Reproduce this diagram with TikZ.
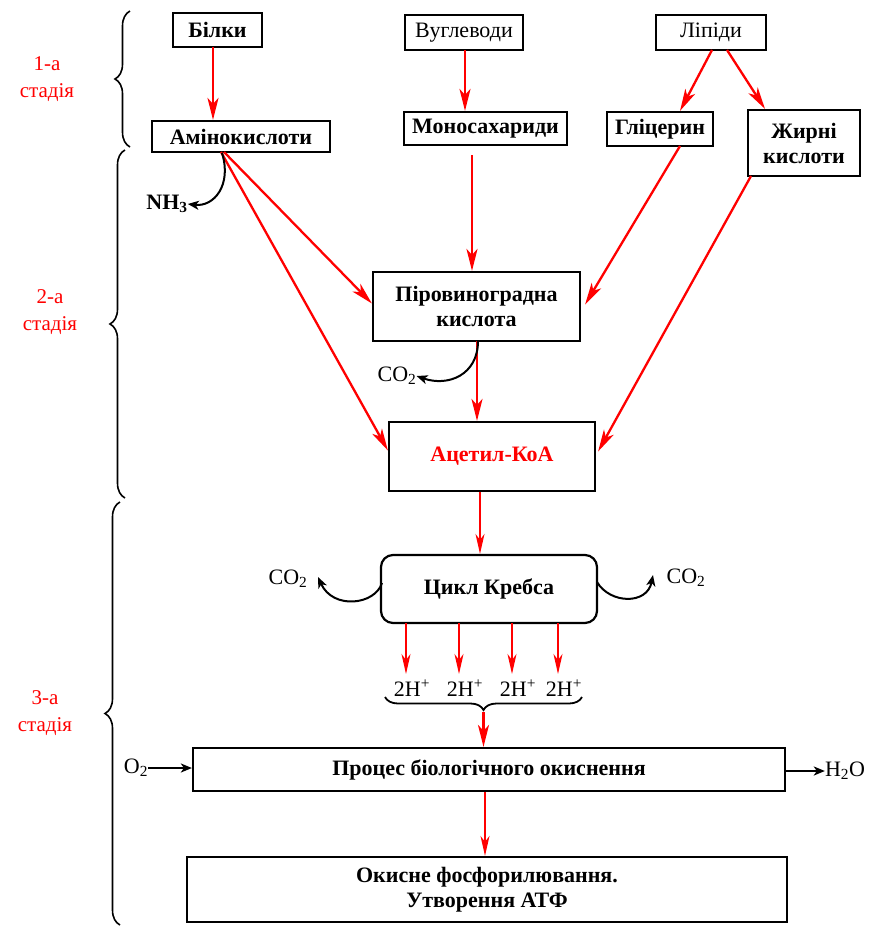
\documentclass[tikz,border=0pt]{standalone}
\usepackage{fontspec}
\setmainfont{Liberation Serif}
\usetikzlibrary{arrows.meta,decorations.pathreplacing,calc}
\begin{document}
\begin{tikzpicture}[x=1pt,y=-1pt,
  box/.style={draw=black,line width=2.2pt,inner sep=0pt,align=center,font=\fontsize{22}{25}\selectfont\bfseries},
  rbox/.style={box,font=\fontsize{22}{25}\selectfont},
  rarr/.style={draw=red,line width=2.3pt,-{Stealth[length=22pt,width=11pt,inset=6pt]}},
  tarr/.style={draw=red,line width=1.6pt,-{Stealth[length=20pt,width=9pt,inset=6pt]}},
  barr/.style={draw=black,line width=2pt,-{Stealth[length=11pt,width=9pt,inset=3pt]}},
  chem/.style={inner sep=0pt,font=\fontsize{22}{25}\selectfont},
  stage/.style={inner sep=0pt,align=center,text=red,font=\fontsize{21}{27}\selectfont},
  brc/.style={draw=black,line width=1.6pt,decorate,decoration={brace,amplitude=15pt}}
]
\useasboundingbox (0,0) rectangle (871,927);

% boxes
\node[box,minimum width=89pt,minimum height=34pt] (bilky) at (217.5,30) {Білки};
\node[rbox,minimum width=118pt,minimum height=35pt] (vugl) at (464,32.5) {Вуглеводи};
\node[rbox,minimum width=110pt,minimum height=35pt] (lip) at (711,32.5) {Ліпіди};
\node[box,minimum width=178pt,minimum height=31pt] (amino) at (241,136.5) {Амінокислоти};
\node[box,minimum width=163pt,minimum height=33pt] (mono) at (485.5,128.5) {Моносахариди};
\node[box,minimum width=106pt,minimum height=34pt] (glic) at (660,129) {Гліцерин};
\node[box,minimum width=112pt,minimum height=66pt] (zhyr) at (804,143) {Жирні\\кислоти};
\node[box,minimum width=207pt,minimum height=69pt] (piro) at (476.5,306.5) {Піровиноградна\\кислота};
\node[box,minimum width=206pt,minimum height=69pt,text=red] (acet) at (492,456.5) {Ацетил-КоА};
\node[box,rounded corners=12pt,minimum width=216pt,minimum height=68pt] (krebs) at (489,589) {Цикл Кребса};
\node[box,minimum width=592pt,minimum height=43pt] (proc) at (489,769.5) {Процес біологічного окиснення};
\node[box,minimum width=600pt,minimum height=65pt] (oks) at (487,889.5) {Окисне фосфорилювання.\\Утворення АТФ};

% stage labels
\node[stage] (s1) at (47,79) {1-а\\стадія};
\node[stage] (s2) at (50,312) {2-а\\стадія};
\node[stage] (s3) at (45,713) {3-а\\стадія};

% left braces
\coordinate (b1t) at (130,11);
\coordinate (b1b) at (130,147);
\coordinate (b2t) at (125,150);
\coordinate (b2b) at (125,498);
\coordinate (b3t) at (120,502);
\coordinate (b3b) at (120,925);
\draw[brc] (b1b) -- (b1t);
\draw[brc] (b2b) -- (b2t);
\draw[brc] (b3b) -- (b3t);

% red arrows stage 1
\coordinate (bb) at (213,47);
\draw[rarr] (bb) -- (amino.north -| bb);
\coordinate (vb) at (465,50);
\draw[rarr] (vb) -- (mono.north -| vb);
\coordinate (l1) at (712,50);
\coordinate (l2) at (727,50);
\draw[rarr] (l1) -- (glic.north -| 680,0);
\draw[rarr] (l2) -- (zhyr.north -| 765,0);

% stage 2 arrows
\coordinate (am1) at (224,152);
\coordinate (am2) at (221,152);
\draw[rarr] (am1) -- ($(piro.west)+(0,-3)$);
\draw[rarr] (am2) -- ($(acet.west)+(0,-6)$);
\coordinate (mo) at (472,155);
\draw[rarr] (mo) -- (piro.north -| mo);
\coordinate (gl) at (680,146);
\draw[rarr] (gl) -- ($(piro.east)+(4,-2)$);
\coordinate (zh) at (751,176);
\draw[rarr] (zh) -- ($(acet.east)+(2,-5)$);
\coordinate (pb) at (477,341);
\draw[rarr] (pb) -- (acet.north -| pb);

% NH3, CO2 curved
\node[chem,font=\fontsize{22}{25}\selectfont\bfseries] (nh3) at (167,204) {NH\textsubscript{3}};
\coordinate (amc) at (222,153);
\draw[barr] (amc) .. controls (232,185) and (214,207) .. (nh3.east);
\node[chem] (co2a) at (397,376) {CO\textsubscript{2}};
\coordinate (pc) at (478,341);
\draw[barr] (pc) .. controls (478,375) and (448,387) .. (co2a.east);

% acetyl -> krebs
\coordinate (ab) at (480,492);
\draw[tarr] (ab) -- (krebs.north -| ab);

% krebs CO2
\node[chem] (co2l) at (288,579) {CO\textsubscript{2}};
\node[chem] (co2r) at (686,578) {CO\textsubscript{2}};
\coordinate (kl) at (382,583);
\coordinate (kr) at (597,582);
\draw[barr] (kl) .. controls (375,605) and (333,610) .. (318,577);
\draw[barr] (kr) .. controls (610,604) and (647,605) .. (653,575);

% 2H+
\foreach \i/\x in {1/406,2/459,3/512,4/558}{
  \node[chem] (h\i) at (\x+6,688) {2H\textsuperscript{+}};
  \coordinate (k\i) at (\x,623);
  \draw[tarr] (k\i) -- (\x,674);
}
\coordinate (brl) at (385,697);
\coordinate (brr) at (582,697);
\draw[draw=black,line width=1.8pt,decorate,decoration={brace,amplitude=13pt,mirror}] (brl) -- (brr);
\coordinate (brt) at (483.5,712);
\draw[rarr] (brt) -- (proc.north -| brt);

% proc -> oks
\coordinate (pr) at (485,792);
\draw[tarr] (pr) -- (oks.north -| pr);

% O2, H2O
\node[chem] (o2) at (136,768) {O\textsubscript{2}};
\node[chem] (h2o) at (845,771) {H\textsubscript{2}O};
\draw[barr] (o2.east) -- (proc.west |- o2.east);
\draw[barr] (proc.east |- h2o.west) -- (h2o.west);
\end{tikzpicture}
\end{document}
